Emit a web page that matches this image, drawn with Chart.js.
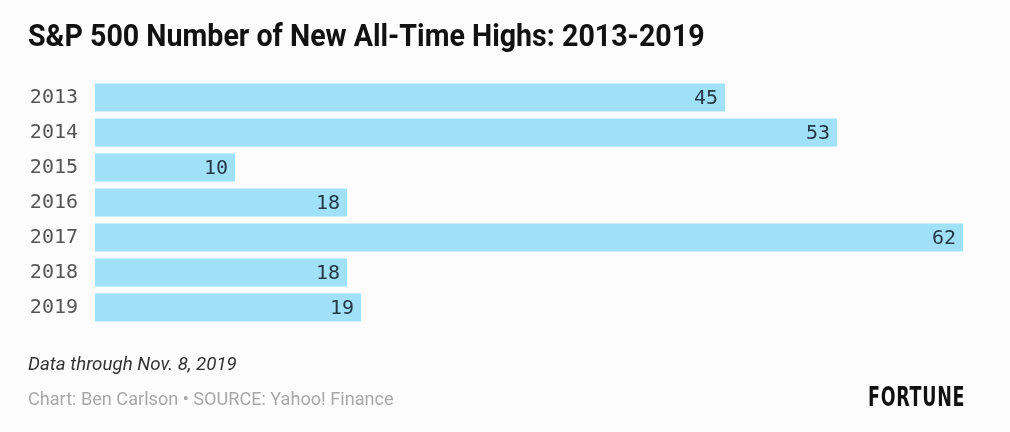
<!DOCTYPE html>
<html lang="en">
<head>
    <meta charset="UTF-8">
    <title>S&amp;P 500 Number of New All-Time Highs</title>
    <script src="https://cdn.jsdelivr.net/npm/chart.js"></script>
    <style>
        html, body { margin: 0; padding: 0; background: #fdfdfd; }
        #wrap { position: relative; width: 1010px; height: 432px; overflow: hidden; }
        #chart { position: absolute; left: 0; top: 0; }
        .txt { position: absolute; white-space: nowrap; line-height: 1; transform-origin: left top; }
        #title { left: 28px; top: 16px; font: bold 32px "Roboto", sans-serif; color: #111; transform: scaleX(0.894); }
        #note { left: 28px; top: 352px; font: italic 19px "Roboto", sans-serif; color: #333; transform: scaleX(0.985); }
        #source { left: 28px; top: 387px; font: 19px "Roboto", sans-serif; color: #a8a8a8; transform: scaleX(0.953); }
        #brand { left: 868px; top: 381px; font: bold 27px "DejaVu Sans Condensed", sans-serif; color: #111; letter-spacing: 1px; transform: scaleX(0.72); }
    </style>
</head>
<body>
<div id="wrap">
    <canvas id="chart" width="1010" height="432"></canvas>
    <div class="txt" id="title">S&amp;P 500 Number of New All-Time Highs: 2013-2019</div>
    <div class="txt" id="note">Data through Nov. 8, 2019</div>
    <div class="txt" id="source">Chart: Ben Carlson • SOURCE: Yahoo! Finance</div>
    <div class="txt" id="brand">FORTUNE</div>
</div>

<script>
    // data
    const years = ['2013', '2014', '2015', '2016', '2017', '2018', '2019'];
    const highs = [45, 53, 10, 18, 62, 18, 19];

    const BAR_COLOR = '#a0e1f8';
    const labelFont = '20px "DejaVu Sans Mono", monospace';

    // draws the number at the right end of each bar
    const barValues = {
        id: 'barValues',
        afterDatasetsDraw(chart) {
            const ctx = chart.ctx;
            const meta = chart.getDatasetMeta(0);
            ctx.save();
            ctx.font = labelFont;
            ctx.fillStyle = '#25384a';
            ctx.textAlign = 'right';
            ctx.textBaseline = 'middle';
            meta.data.forEach((bar, i) => {
                ctx.fillText(String(highs[i]), bar.x - 7, bar.y + 1);
            });
            ctx.restore();
        }
    };

    new Chart(document.getElementById('chart'), {
        type: 'bar',
        data: {
            labels: years,
            datasets: [{
                data: highs,
                backgroundColor: BAR_COLOR,
                borderWidth: 0,
                categoryPercentage: 0.8,
                barPercentage: 1.0
            }]
        },
        options: {
            indexAxis: 'y',
            responsive: false,
            animation: false,
            layout: { padding: { top: 80, bottom: 107, left: 0, right: 47 } },
            plugins: { legend: { display: false }, tooltip: { enabled: false } },
            scales: {
                x: { display: false, min: 0, max: 62 },
                y: {
                    afterFit(scale) { scale.width = 95; },
                    grid: { display: false, drawTicks: false },
                    border: { display: false },
                    ticks: {
                        padding: 17,
                        color: '#555',
                        font: { family: '"DejaVu Sans Mono", monospace', size: 20 }
                    }
                }
            }
        },
        plugins: [barValues]
    });
</script>
</body>
</html>
